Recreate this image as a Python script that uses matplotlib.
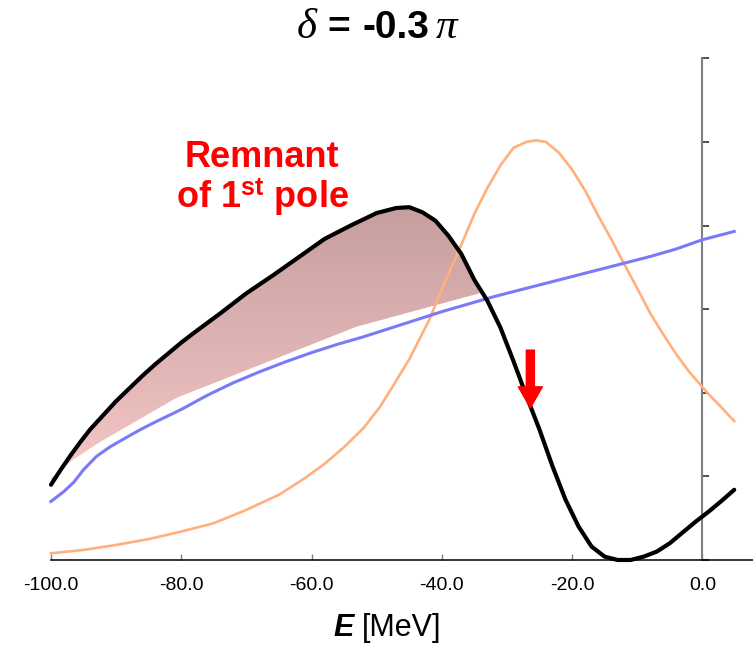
import numpy as np
import matplotlib
matplotlib.use('Agg')
import matplotlib.pyplot as plt
from matplotlib.colors import LinearSegmentedColormap
from matplotlib.patches import Polygon
from matplotlib import font_manager

plt.rcParams['mathtext.fontset'] = 'custom'
plt.rcParams['mathtext.it'] = 'Liberation Serif:italic'
plt.rcParams['mathtext.rm'] = 'Liberation Sans'
plt.rcParams['mathtext.bf'] = 'Liberation Sans:bold'

names = {f.name for f in font_manager.fontManager.ttflist}
NARROW = 'Liberation Sans Narrow' if 'Liberation Sans Narrow' in names else 'Liberation Sans'

# ---- data ----
black_E = [-100, -98.5, -97, -95.5, -94, -92, -90, -88, -86, -84, -82, -80, -78, -74, -70, -66, -62, -58,
           -54, -50, -47, -45, -43, -41, -39, -37, -35, -33, -31, -29, -27, -25, -23, -21, -19, -17,
           -15, -13, -11, -9, -7, -5, -3, -1, 1, 3, 4.9]
black_y = [0.90, 1.08, 1.25, 1.41, 1.56, 1.73, 1.90, 2.05, 2.20, 2.34, 2.47, 2.60, 2.72, 2.95, 3.19, 3.40,
           3.62, 3.84, 4.00, 4.15, 4.21, 4.22, 4.16, 4.06, 3.88, 3.66, 3.35, 3.10, 2.78, 2.38, 1.96, 1.56,
           1.12, 0.72, 0.40, 0.16, 0.04, 0.00, 0.00, 0.04, 0.10, 0.20, 0.33, 0.46, 0.58, 0.71, 0.84]

blue_E = [-100, -98, -96.5, -95, -93, -91, -89, -86.5, -84, -80, -76, -72, -68, -64, -60, -56,
          -52, -48, -44, -40, -36, -32, -28, -24, -20, -16, -12, -8, -4, 0, 4.9]
blue_y = [0.70, 0.82, 0.93, 1.08, 1.24, 1.35, 1.44, 1.55, 1.65, 1.80, 1.97, 2.12, 2.25, 2.37, 2.48, 2.58,
          2.67, 2.77, 2.87, 2.97, 3.06, 3.15, 3.23, 3.31, 3.39, 3.47, 3.55, 3.63, 3.72, 3.83, 3.93]

orange_E = [-100, -95, -90, -85, -80, -75, -70, -65, -61, -58, -55, -52, -49.5, -47.5, -45, -42,
            -39.5, -37, -35, -33, -31, -29, -27, -25.5, -24, -22, -20, -18, -16, -14, -12, -10,
            -8, -6, -4, -2, 0, 1, 3, 4.9]
orange_y = [0.08, 0.12, 0.18, 0.25, 0.34, 0.44, 0.60, 0.78, 0.98, 1.15, 1.35, 1.58, 1.83, 2.08, 2.40, 2.86,
            3.33, 3.77, 4.14, 4.45, 4.72, 4.93, 5.00, 5.02, 5.00, 4.87, 4.67, 4.42, 4.12, 3.84, 3.54, 3.25,
            2.95, 2.70, 2.46, 2.25, 2.07, 1.98, 1.82, 1.66]

fill_lower_E = [-100, -96.6, -92.5, -80.7, -53.1, -34.2]
fill_lower_y = [0.98, 1.20, 1.41, 1.94, 2.79, 3.19]

xticks = [-100, -80, -60, -40, -20, 0]
xticklabels = ['-100.0', '-80.0', '-60.0', '-40.0', '-20.0', '0.0']
yticks = [0, 1, 2, 3, 4, 5, 6]

arrow_E = -26.4
arrow_tip = 1.82
arrow_tail = 2.51

# ---- figure ----
fig = plt.figure(figsize=(7.53, 6.47), dpi=100)
ax = fig.add_axes([0.0677, 0.1345, 0.9323, 0.7753])

# gradient-filled region ("remnant of 1st pole")
bE = np.array(black_E, float)
bY = np.array(black_y, float)
m = bE <= -35
upper = list(zip(bE[m], bY[m]))
lower = list(zip(fill_lower_E, fill_lower_y))
verts = upper + lower[::-1]
poly = Polygon(verts, closed=True, facecolor='none', edgecolor='none', transform=ax.transData)
ax.add_patch(poly)
cmap = LinearSegmentedColormap.from_list('rem', ['#f7c8c8', '#c69e9e'])
grad = np.linspace(0, 1, 256).reshape(-1, 1)
im = ax.imshow(grad, extent=[-100, -34, 0.9, 4.25], origin='lower', aspect='auto',
               cmap=cmap, zorder=1, interpolation='bilinear')
im.set_clip_path(poly)

ax.plot(orange_E, orange_y, color='#ffb07c', lw=1.9, zorder=3, clip_on=False)
ax.plot(blue_E, blue_y, color='#7a7af8', lw=2.2, zorder=3, clip_on=False)
ax.plot(black_E, black_y, color='black', lw=3.0, zorder=4, clip_on=False,
        solid_capstyle='round', solid_joinstyle='round')

ax.annotate('', xy=(arrow_E, arrow_tip), xytext=(arrow_E, arrow_tail),
            arrowprops=dict(arrowstyle='simple,head_width=1.73,head_length=1.51,tail_width=0.58',
                            mutation_scale=10, color='red', shrinkA=0, shrinkB=0), zorder=5)

ax.text(-67.6, 4.82, 'Remnant', color='red', fontsize=26, fontweight='bold',
        family='Liberation Sans', ha='center', va='center')
ax.text(-67.6, 4.34, r'of 1$^{\mathbf{st}}$ pole', color='red', fontsize=26, fontweight='bold',
        family='Liberation Sans', ha='center', va='center')

ax.set_xlim(-100, 7.78)
ax.set_ylim(0, 6)

for s in ['top', 'right']:
    ax.spines[s].set_visible(False)
ax.spines['left'].set_position(('data', 0))
ax.spines['left'].set_color('#808080')
ax.spines['left'].set_linewidth(1.5)
ax.spines['bottom'].set_color('black')
ax.spines['bottom'].set_linewidth(1.1)

ax.set_xticks(xticks)
ax.set_xticklabels(xticklabels, family=NARROW, fontsize=14)
ax.tick_params(axis='x', direction='in', length=4, width=1, color='#808080', pad=12)
ax.set_yticks(yticks)
ax.set_yticklabels([])
ax.tick_params(axis='y', direction='in', length=5, width=1.2, color='#333333')

# title pieces: delta (serif italic), "= -0.3" (bold sans), pi (serif italic)
base = 1 - 38 / 647
fig.text(307 / 753, base, '\u03b4', fontsize=31, style='italic', family='Liberation Serif',
         ha='center', va='baseline')
fig.text(339 / 753, base, '=', fontsize=28, fontweight='bold', family='Liberation Sans',
         ha='center', va='baseline')
fig.text(396 / 753, base, '-0.3', fontsize=28, fontweight='bold', family='Liberation Sans',
         ha='center', va='baseline')
fig.text(447 / 753, base, '\u03c0', fontsize=31, style='italic', family='Liberation Serif',
         ha='center', va='baseline')

fig.text(354 / 753, 1 - 628 / 647, 'E', fontsize=22, fontweight='bold', style='italic',
         family='Liberation Sans', ha='right', va='center')
fig.text(362 / 753, 1 - 628 / 647, '[MeV]', fontsize=22, family=NARROW, ha='left', va='center')

fig.savefig('out.png', dpi=100)
